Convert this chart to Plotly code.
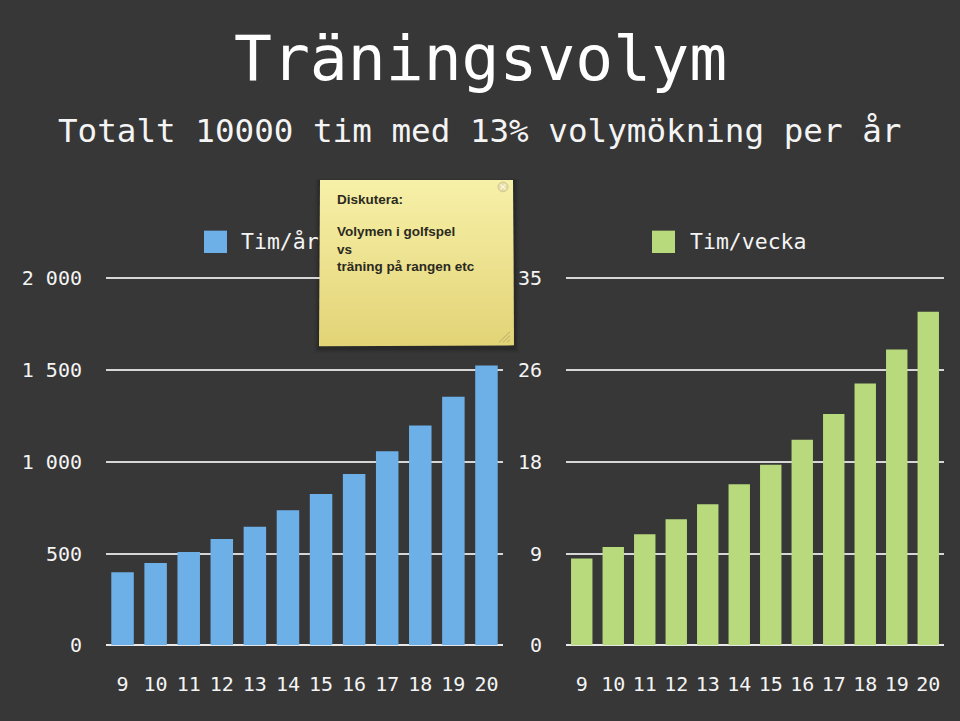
import plotly.graph_objects as go

# ---- data ----
ages = ["9", "10", "11", "12", "13", "14", "15", "16", "17", "18", "19", "20"]
tim_ar = [398, 448, 508, 579, 646, 736, 825, 934, 1058, 1198, 1354, 1525]
tim_vecka = [8.27, 9.38, 10.58, 12.03, 13.45, 15.36, 17.23, 19.6, 22.07, 24.96, 28.22, 31.82]
left_ticks = [0, 500, 1000, 1500, 2000]
left_ticktext = ["0", "500", "1 000", "1 500", "2 000"]
right_ticks = [0, 8.75, 17.5, 26.25, 35]
right_ticktext = ["0", "9", "18", "26", "35"]

W, H = 960, 721
BG = "#373737"
BLUE = "#6db0e8"
GREEN = "#b8da7c"
FONT = "DejaVu Sans Mono"

def px(x):
    return x / W

def py(y):
    return 1 - y / H

fig = go.Figure()
fig.add_trace(go.Bar(x=ages, y=tim_ar, marker=dict(color=BLUE, line=dict(width=0)),
                     xaxis="x", yaxis="y", showlegend=False, name="Tim/år"))
fig.add_trace(go.Bar(x=ages, y=tim_vecka, marker=dict(color=GREEN, line=dict(width=0)),
                     xaxis="x2", yaxis="y2", showlegend=False, name="Tim/vecka"))

# sticky note as a filled trace on an overlay axis spanning the page (pixel coordinates)
note_x = [320, 513, 513.6, 514, 319, 320]
note_y = [177, 177, 260, 347, 348, 177]
fig.add_trace(go.Scatter(
    x=note_x, y=note_y, xaxis="x3", yaxis="y3", mode="lines",
    line=dict(width=0, color="rgba(0,0,0,0)"), fill="toself",
    fillgradient=dict(type="vertical",
                      colorscale=[[0, "rgb(226,211,118)"], [1, "rgb(247,240,168)"]]),
    showlegend=False, hoverinfo="skip"))

y_zero, y_top_tick = 655.5, 278.0
scale_l = (y_zero - y_top_tick) / 2000
top_px = y_zero - 2020 * scale_l
ydom = [py(y_zero), py(top_px)]

axis_common = dict(
    showgrid=True, gridcolor="#d6d6d6", gridwidth=1.5,
    zeroline=True, zerolinecolor="#e8e8e8", zerolinewidth=1.5,
    showline=False,
    ticks="outside", tickcolor="rgba(0,0,0,0)", ticklen=19,
    tickfont=dict(family=FONT, size=20, color="#f4f4f4"),
    fixedrange=True,
)
xcommon = dict(
    type="category", showgrid=False, zeroline=False, showline=False,
    ticks="outside", tickcolor="rgba(0,0,0,0)", ticklen=21,
    tickfont=dict(family=FONT, size=20, color="#f4f4f4"),
    fixedrange=True,
)

fig.update_layout(
    width=W, height=H,
    margin=dict(l=0, r=0, t=0, b=0),
    paper_bgcolor=BG, plot_bgcolor="rgba(0,0,0,0)",
    bargap=0.32,
    xaxis=dict(domain=[px(106), px(503)], anchor="y", **xcommon),
    yaxis=dict(domain=ydom, anchor="x", range=[0, 2020],
               tickvals=left_ticks, ticktext=left_ticktext, **axis_common),
    xaxis2=dict(domain=[px(566), px(944)], anchor="y2", **xcommon),
    yaxis2=dict(domain=ydom, anchor="x2", range=[0, 35 * 2020 / 2000],
                tickvals=right_ticks, ticktext=right_ticktext, **axis_common),
    xaxis3=dict(domain=[0, 1], range=[0, W], visible=False, fixedrange=True, anchor="y3"),
    yaxis3=dict(domain=[0, 1], range=[H, 0], visible=False, fixedrange=True, anchor="x3"),
)

shapes = []
annotations = []

# titles
annotations.append(dict(text="Träningsvolym", x=px(480), y=py(52), xref="paper", yref="paper",
                         xanchor="center", yanchor="middle", showarrow=False,
                         font=dict(family=FONT, size=63, color="#ffffff")))
annotations.append(dict(text="Totalt 10000 tim med 13% volymökning per år", x=px(479), y=py(127),
                         xref="paper", yref="paper", xanchor="center", yanchor="middle",
                         showarrow=False, font=dict(family=FONT, size=32.6, color="#f4f4f4")))

# legends (square + label)
for (x0, color, label, tx) in [(204, BLUE, "Tim/år", 239), (652, GREEN, "Tim/vecka", 688)]:
    shapes.append(dict(type="rect", xref="paper", yref="paper",
                       x0=px(x0), x1=px(x0 + 23), y0=py(252), y1=py(229),
                       fillcolor=color, line=dict(width=0)))
    annotations.append(dict(text=label, x=px(tx), y=py(240), xref="paper", yref="paper",
                            xanchor="left", yanchor="middle", showarrow=False,
                            font=dict(family=FONT, size=21.5, color="#f4f4f4")))

# soft shadow under the note
for d, a in [(5, 0.05), (3, 0.08), (1.5, 0.12)]:
    shapes.append(dict(type="path", xref="paper", yref="paper", layer="below",
                       path=f"M {px(320-d)},{py(178-d*0.5)} L {px(514+d)},{py(178-d*0.5)} "
                            f"L {px(515+d)},{py(350+d)} L {px(319-d)},{py(350+d)} Z",
                       fillcolor=f"rgba(0,0,0,{a})", line=dict(width=0)))

# close button
shapes.append(dict(type="circle", xref="paper", yref="paper",
                   x0=px(498), x1=px(508), y0=py(189), y1=py(179),
                   fillcolor="#e6dcaa", line=dict(color="#d2c68e", width=1)))
shapes.append(dict(type="line", xref="paper", yref="paper",
                   x0=px(500.5), x1=px(505.5), y0=py(186.5), y1=py(181.5),
                   line=dict(color="#fbf6d6", width=1.3)))
shapes.append(dict(type="line", xref="paper", yref="paper",
                   x0=px(500.5), x1=px(505.5), y0=py(181.5), y1=py(186.5),
                   line=dict(color="#fbf6d6", width=1.3)))
# resize hatch
for k in range(3):
    o = 4 * k
    shapes.append(dict(type="line", xref="paper", yref="paper",
                       x0=px(499 + o), x1=px(510), y0=py(344), y1=py(333 + o),
                       line=dict(color="#b9ad6c", width=1)))

NOTE_FONT = dict(family="Liberation Sans Narrow, Arial Narrow, Liberation Sans, sans-serif",
                 size=13.5, color="#2b2a20")
annotations.append(dict(text="<b>Diskutera:</b>", x=px(335), y=py(197), xref="paper", yref="paper",
                        xanchor="left", yanchor="middle", showarrow=False, font=NOTE_FONT))
annotations.append(dict(text="<b>Volymen i golfspel</b><br><b>vs</b><br><b>träning på rangen etc</b>",
                        x=px(335), y=py(220), xref="paper", yref="paper", align="left",
                        xanchor="left", yanchor="top", showarrow=False, font=NOTE_FONT))

fig.update_layout(shapes=shapes, annotations=annotations)
fig.write_html("out.html")
